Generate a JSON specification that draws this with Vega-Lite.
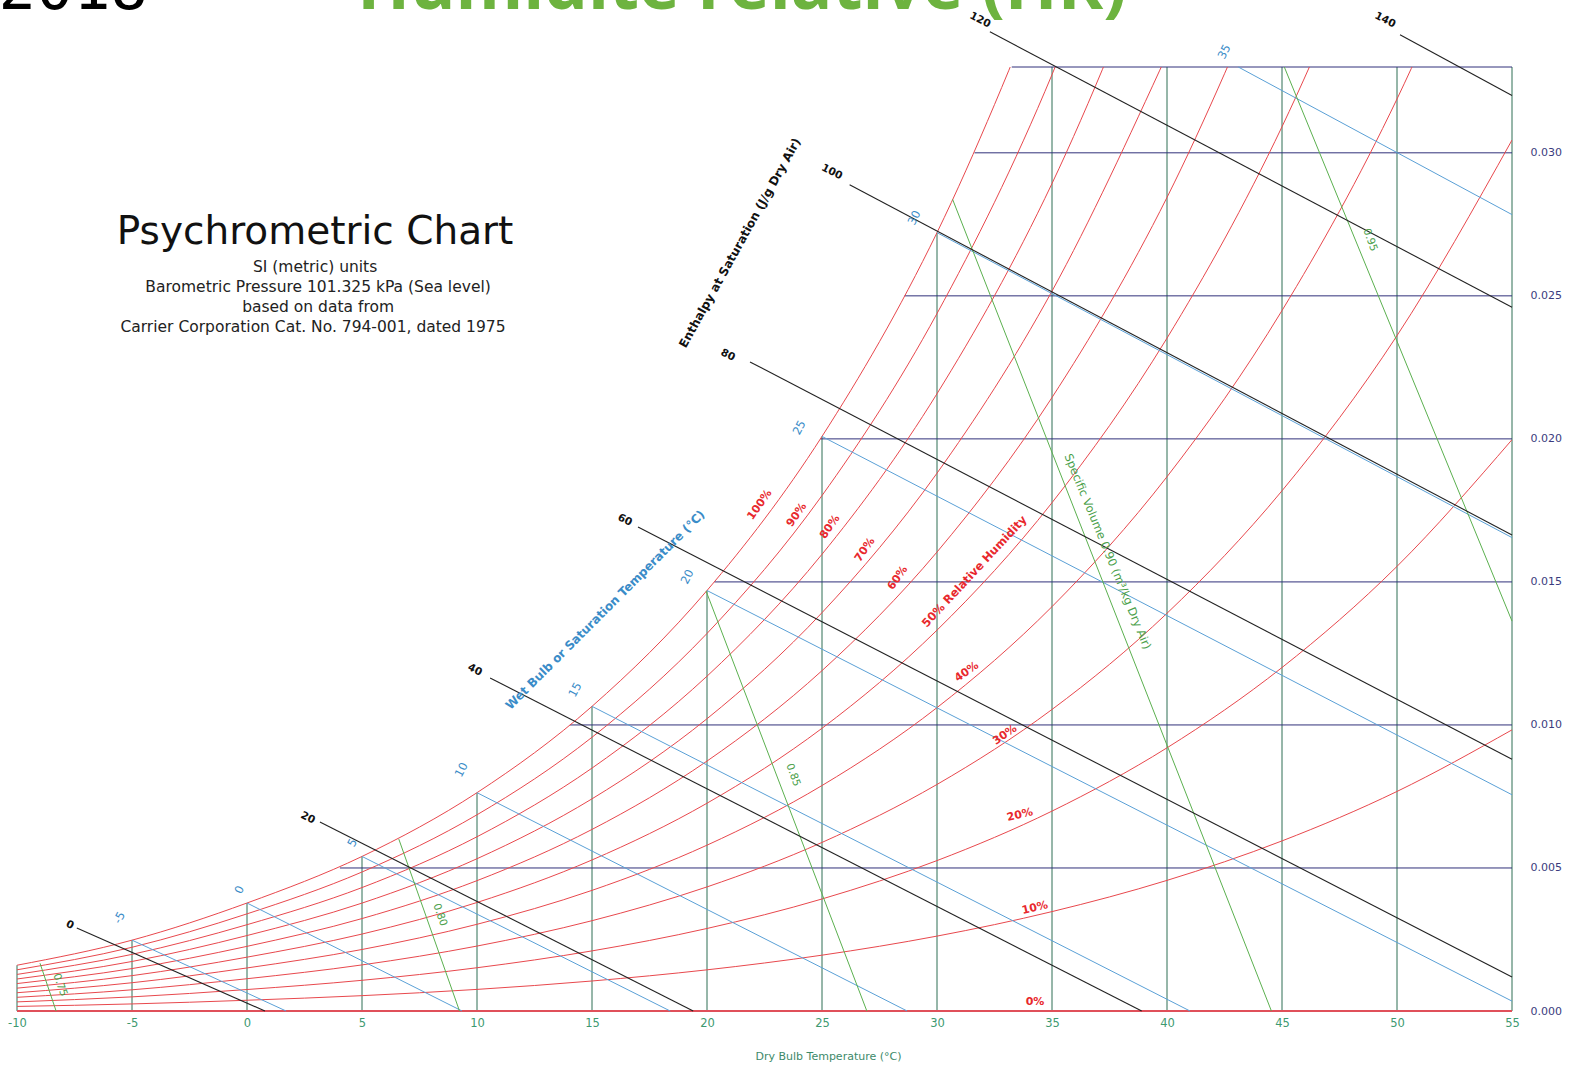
{
  "$schema": "https://vega.github.io/schema/vega-lite/v6.json",
  "width": 1495,
  "height": 944,
  "autosize": {"type": "none"},
  "padding": {"left": 17, "top": 67, "right": 57, "bottom": 54},
  "background": "white",
  "config": {"view": {"stroke": null}, "font": "DejaVu Sans"},
  "layer": [
    {
      "data": {"values": [
        {"T": -10, "wtop": 0.0016}, {"T": -5, "wtop": 0.002476}, {"T": 0, "wtop": 0.003775},
        {"T": 5, "wtop": 0.005403}, {"T": 10, "wtop": 0.007632}, {"T": 15, "wtop": 0.01065},
        {"T": 20, "wtop": 0.014699}, {"T": 25, "wtop": 0.020086}, {"T": 30, "wtop": 0.02721},
        {"T": 35, "wtop": 0.033}, {"T": 40, "wtop": 0.033}, {"T": 45, "wtop": 0.033},
        {"T": 50, "wtop": 0.033}, {"T": 55, "wtop": 0.033}
      ]},
      "mark": {"type": "rule", "color": "#2f6f55", "strokeWidth": 1},
      "encoding": {
        "x": {"field": "T", "type": "quantitative", "scale": {"domain": [-10, 55], "nice": false, "zero": false},
          "axis": {"values": [-10, -5, 0, 5, 10, 15, 20, 25, 30, 35, 40, 45, 50, 55], "title": "Dry Bulb Temperature (°C)",
            "labelExpr": "'' + datum.value",
            "domain": false, "ticks": false, "grid": false, "labelColor": "#3d9970", "labelFontSize": 11.5, "labelPadding": 6,
            "labelFlush": false, "titleColor": "#3d8a6a", "titleFontSize": 11, "titleFontWeight": "normal",
            "titleX": 811, "titleY": 48, "titleBaseline": "alphabetic"}},
        "y": {"field": "wtop", "type": "quantitative", "scale": {"domain": [0, 0.033], "nice": false, "zero": false},
          "axis": {"orient": "right", "values": [0, 0.005, 0.01, 0.015, 0.02, 0.025, 0.03], "format": ".3f", "title": null,
            "domain": false, "ticks": false, "grid": false, "labelColor": "#3b3b7e", "labelFontSize": 11, "labelPadding": 18}},
        "y2": {"datum": 0}
      }
    },
    {
      "data": {"values": [
        {"w": 0.005, "T1": 4.04}, {"w": 0.01, "T1": 14.04}, {"w": 0.015, "T1": 20.32}, {"w": 0.02, "T1": 24.93},
        {"w": 0.025, "T1": 28.59}, {"w": 0.03, "T1": 31.63}, {"w": 0.033, "T1": 33.25}
      ]},
      "mark": {"type": "rule", "color": "#30307a", "strokeWidth": 1},
      "encoding": {
        "x": {"field": "T1", "type": "quantitative", "scale": {"domain": [-10, 55], "nice": false, "zero": false}},
        "x2": {"datum": 55},
        "y": {"field": "w", "type": "quantitative", "scale": {"domain": [0, 0.033], "nice": false, "zero": false}}
      }
    },
    {
      "data": {"values": [
        {"rh": "10", "T": -10, "w": 0.00016}, {"rh": "10", "T": -5, "w": 0.000247}, {"rh": "10", "T": 0, "w": 0.000376}, {"rh": "10", "T": 5, "w": 0.000536}, {"rh": "10", "T": 10, "w": 0.000755}, {"rh": "10", "T": 15, "w": 0.001049}, {"rh": "10", "T": 20, "w": 0.001439}, {"rh": "10", "T": 25, "w": 0.001952}, {"rh": "10", "T": 30, "w": 0.002618}, {"rh": "10", "T": 35, "w": 0.003475}, {"rh": "10", "T": 40, "w": 0.004566}, {"rh": "10", "T": 45, "w": 0.005946}, {"rh": "10", "T": 50, "w": 0.007675}, {"rh": "10", "T": 55, "w": 0.009828},
        {"rh": "20", "T": -10, "w": 0.000319}, {"rh": "20", "T": -5, "w": 0.000494}, {"rh": "20", "T": 0, "w": 0.000751}, {"rh": "20", "T": 5, "w": 0.001073}, {"rh": "20", "T": 10, "w": 0.001512}, {"rh": "20", "T": 15, "w": 0.002101}, {"rh": "20", "T": 20, "w": 0.002885}, {"rh": "20", "T": 25, "w": 0.003916}, {"rh": "20", "T": 30, "w": 0.005258}, {"rh": "20", "T": 35, "w": 0.006988}, {"rh": "20", "T": 40, "w": 0.0092}, {"rh": "20", "T": 45, "w": 0.012007}, {"rh": "20", "T": 50, "w": 0.015543}, {"rh": "20", "T": 55, "w": 0.019972},
        {"rh": "30", "T": -10, "w": 0.000479}, {"rh": "30", "T": -5, "w": 0.000741}, {"rh": "30", "T": 0, "w": 0.001128}, {"rh": "30", "T": 5, "w": 0.001611}, {"rh": "30", "T": 10, "w": 0.00227}, {"rh": "30", "T": 15, "w": 0.003157}, {"rh": "30", "T": 20, "w": 0.004338}, {"rh": "30", "T": 25, "w": 0.005893}, {"rh": "30", "T": 30, "w": 0.00792}, {"rh": "30", "T": 35, "w": 0.010541}, {"rh": "30", "T": 40, "w": 0.013903}, {"rh": "30", "T": 45, "w": 0.018186}, {"rh": "30", "T": 50, "w": 0.023609}, {"rh": "30", "T": 55, "w": 0.030446},
        {"rh": "40", "T": -10, "w": 0.000639}, {"rh": "40", "T": -5, "w": 0.000988}, {"rh": "40", "T": 0, "w": 0.001505}, {"rh": "40", "T": 5, "w": 0.00215}, {"rh": "40", "T": 10, "w": 0.003031}, {"rh": "40", "T": 15, "w": 0.004217}, {"rh": "40", "T": 20, "w": 0.005797}, {"rh": "40", "T": 25, "w": 0.007882}, {"rh": "40", "T": 30, "w": 0.010605}, {"rh": "40", "T": 35, "w": 0.014135}, {"rh": "40", "T": 40, "w": 0.018677}, {"rh": "40", "T": 45, "w": 0.024486}, {"rh": "40", "T": 50, "w": 0.031882}, {"rh": "40", "T": 55, "w": 0.041268},
        {"rh": "50", "T": -10, "w": 0.000799}, {"rh": "50", "T": -5, "w": 0.001236}, {"rh": "50", "T": 0, "w": 0.001882}, {"rh": "50", "T": 5, "w": 0.00269}, {"rh": "50", "T": 10, "w": 0.003793}, {"rh": "50", "T": 15, "w": 0.00528}, {"rh": "50", "T": 20, "w": 0.007264}, {"rh": "50", "T": 25, "w": 0.009883}, {"rh": "50", "T": 30, "w": 0.013313}, {"rh": "50", "T": 35, "w": 0.017769}, {"rh": "50", "T": 40, "w": 0.023522}, {"rh": "50", "T": 45, "w": 0.030912}, {"rh": "50", "T": 50, "w": 0.04037},
        {"rh": "60", "T": -10, "w": 0.000959}, {"rh": "60", "T": -5, "w": 0.001483}, {"rh": "60", "T": 0, "w": 0.00226}, {"rh": "60", "T": 5, "w": 0.003231}, {"rh": "60", "T": 10, "w": 0.004557}, {"rh": "60", "T": 15, "w": 0.006347}, {"rh": "60", "T": 20, "w": 0.008737}, {"rh": "60", "T": 25, "w": 0.011898}, {"rh": "60", "T": 30, "w": 0.016045}, {"rh": "60", "T": 35, "w": 0.021446}, {"rh": "60", "T": 40, "w": 0.028441}, {"rh": "60", "T": 45, "w": 0.037467},
        {"rh": "70", "T": -10, "w": 0.001119}, {"rh": "70", "T": -5, "w": 0.001731}, {"rh": "70", "T": 0, "w": 0.002638}, {"rh": "70", "T": 5, "w": 0.003772}, {"rh": "70", "T": 10, "w": 0.005323}, {"rh": "70", "T": 15, "w": 0.007417}, {"rh": "70", "T": 20, "w": 0.010217}, {"rh": "70", "T": 25, "w": 0.013925}, {"rh": "70", "T": 30, "w": 0.0188}, {"rh": "70", "T": 35, "w": 0.025165}, {"rh": "70", "T": 40, "w": 0.033437},
        {"rh": "80", "T": -10, "w": 0.001279}, {"rh": "80", "T": -5, "w": 0.00198}, {"rh": "80", "T": 0, "w": 0.003017}, {"rh": "80", "T": 5, "w": 0.004315}, {"rh": "80", "T": 10, "w": 0.006091}, {"rh": "80", "T": 15, "w": 0.008491}, {"rh": "80", "T": 20, "w": 0.011704}, {"rh": "80", "T": 25, "w": 0.015966}, {"rh": "80", "T": 30, "w": 0.021579}, {"rh": "80", "T": 35, "w": 0.028927}, {"rh": "80", "T": 40, "w": 0.03851},
        {"rh": "90", "T": -10, "w": 0.00144}, {"rh": "90", "T": -5, "w": 0.002228}, {"rh": "90", "T": 0, "w": 0.003396}, {"rh": "90", "T": 5, "w": 0.004859}, {"rh": "90", "T": 10, "w": 0.00686}, {"rh": "90", "T": 15, "w": 0.009569}, {"rh": "90", "T": 20, "w": 0.013198}, {"rh": "90", "T": 25, "w": 0.018019}, {"rh": "90", "T": 30, "w": 0.024382}, {"rh": "90", "T": 35, "w": 0.032733}, {"rh": "90", "T": 40, "w": 0.043661},
        {"rh": "100", "T": -10, "w": 0.0016}, {"rh": "100", "T": -5, "w": 0.002476}, {"rh": "100", "T": 0, "w": 0.003775}, {"rh": "100", "T": 5, "w": 0.005403}, {"rh": "100", "T": 10, "w": 0.007632}, {"rh": "100", "T": 15, "w": 0.01065}, {"rh": "100", "T": 20, "w": 0.014699}, {"rh": "100", "T": 25, "w": 0.020086}, {"rh": "100", "T": 30, "w": 0.02721}, {"rh": "100", "T": 35, "w": 0.036584}
      ]},
      "mark": {"type": "line", "color": "#e8484d", "strokeWidth": 1, "interpolate": "monotone", "clip": true},
      "encoding": {
        "x": {"field": "T", "type": "quantitative", "scale": {"domain": [-10, 55], "nice": false, "zero": false}},
        "y": {"field": "w", "type": "quantitative", "scale": {"domain": [0, 0.033], "nice": false, "zero": false}},
        "detail": {"field": "rh", "type": "nominal"}
      }
    },
    {
      "data": {"values": [{"T1": -10, "T2": 55, "w": 0}]},
      "mark": {"type": "rule", "color": "#e0505a", "strokeWidth": 2.2},
      "encoding": {
        "x": {"field": "T1", "type": "quantitative", "scale": {"domain": [-10, 55], "nice": false, "zero": false}},
        "x2": {"field": "T2"},
        "y": {"field": "w", "type": "quantitative", "scale": {"domain": [0, 0.033], "nice": false, "zero": false}}
      }
    },
    {
      "data": {"values": [
        {"twb": -5, "T1": -5, "w1": 0.002476, "T2": 1.7, "w2": 0},
        {"twb": 0, "T1": 0, "w1": 0.003775, "T2": 9.35, "w2": 0},
        {"twb": 5, "T1": 5, "w1": 0.005403, "T2": 18.4, "w2": 0},
        {"twb": 10, "T1": 10, "w1": 0.007632, "T2": 28.7, "w2": 0},
        {"twb": 15, "T1": 15, "w1": 0.01065, "T2": 41.0, "w2": 0},
        {"twb": 20, "T1": 20, "w1": 0.014699, "T2": 55, "w2": 0.000345},
        {"twb": 25, "T1": 25, "w1": 0.020086, "T2": 55, "w2": 0.007559},
        {"twb": 30, "T1": 30, "w1": 0.02721, "T2": 55, "w2": 0.016549},
        {"twb": 35, "T1": 43.1, "w1": 0.033, "T2": 55, "w2": 0.02784}
      ]},
      "mark": {"type": "rule", "color": "#5aa0d6", "strokeWidth": 1},
      "encoding": {
        "x": {"field": "T1", "type": "quantitative", "scale": {"domain": [-10, 55], "nice": false, "zero": false}},
        "x2": {"field": "T2"},
        "y": {"field": "w1", "type": "quantitative", "scale": {"domain": [0, 0.033], "nice": false, "zero": false}},
        "y2": {"field": "w2"}
      }
    },
    {
      "data": {"values": [
        {"v": 0.75, "T1": -9.0, "w1": 0.00167, "T2": -8.3, "w2": 0},
        {"v": 0.80, "T1": 6.6, "w1": 0.00601, "T2": 9.24, "w2": 0},
        {"v": 0.85, "T1": 19.96, "w1": 0.01468, "T2": 26.95, "w2": 0},
        {"v": 0.90, "T1": 30.68, "w1": 0.02837, "T2": 44.54, "w2": 0},
        {"v": 0.95, "T1": 45.1, "w1": 0.033, "T2": 55, "w2": 0.01363}
      ]},
      "mark": {"type": "rule", "color": "#5bb04f", "strokeWidth": 1},
      "encoding": {
        "x": {"field": "T1", "type": "quantitative", "scale": {"domain": [-10, 55], "nice": false, "zero": false}},
        "x2": {"field": "T2"},
        "y": {"field": "w1", "type": "quantitative", "scale": {"domain": [0, 0.033], "nice": false, "zero": false}},
        "y2": {"field": "w2"}
      }
    },
    {
      "data": {"values": [
        {"h": 0, "T1": -7.4, "w1": 0.0029, "T2": 0.78, "w2": 0},
        {"h": 20, "T1": 3.17, "w1": 0.00661, "T2": 19.4, "w2": 0},
        {"h": 40, "T1": 10.57, "w1": 0.01164, "T2": 38.9, "w2": 0},
        {"h": 60, "T1": 17.0, "w1": 0.01692, "T2": 55, "w2": 0.00119},
        {"h": 80, "T1": 21.87, "w1": 0.02269, "T2": 55, "w2": 0.0088},
        {"h": 100, "T1": 26.2, "w1": 0.02888, "T2": 55, "w2": 0.01664},
        {"h": 120, "T1": 32.3, "w1": 0.03423, "T2": 55, "w2": 0.0246},
        {"h": 140, "T1": 50.13, "w1": 0.03413, "T2": 55, "w2": 0.032}
      ]},
      "mark": {"type": "rule", "color": "#222222", "strokeWidth": 1.1},
      "encoding": {
        "x": {"field": "T1", "type": "quantitative", "scale": {"domain": [-10, 55], "nice": false, "zero": false}},
        "x2": {"field": "T2"},
        "y": {"field": "w1", "type": "quantitative", "scale": {"domain": [0, 0.033], "nice": false, "zero": false}},
        "y2": {"field": "w2"}
      }
    },
    {
      "data": {"values": [
        {"T": -7.7, "w": 0.00301, "label": "0"}, {"T": 2.65, "w": 0.00675, "label": "20"},
        {"T": 9.91, "w": 0.01192, "label": "40"}, {"T": 16.43, "w": 0.01716, "label": "60"},
        {"T": 20.91, "w": 0.02293, "label": "80"}, {"T": 25.43, "w": 0.02933, "label": "100"},
        {"T": 31.87, "w": 0.03464, "label": "120"}, {"T": 49.48, "w": 0.03464, "label": "140"}
      ]},
      "mark": {"type": "text", "color": "#111111", "fontSize": 10.5, "fontWeight": "bold", "angle": 27, "align": "center", "baseline": "middle"},
      "encoding": {
        "x": {"field": "T", "type": "quantitative", "scale": {"domain": [-10, 55], "nice": false, "zero": false}},
        "y": {"field": "w", "type": "quantitative", "scale": {"domain": [0, 0.033], "nice": false, "zero": false}},
        "text": {"field": "label"}
      }
    },
    {
      "data": {"values": [
        {"T": -5.52, "w": 0.00325, "label": "-5"}, {"T": -0.3, "w": 0.00423, "label": "0"},
        {"T": 4.61, "w": 0.00587, "label": "5"}, {"T": 9.35, "w": 0.00842, "label": "10"},
        {"T": 14.3, "w": 0.01122, "label": "15"}, {"T": 19.17, "w": 0.01517, "label": "20"},
        {"T": 24.04, "w": 0.02038, "label": "25"}, {"T": 29.04, "w": 0.02772, "label": "30"},
        {"T": 42.52, "w": 0.03352, "label": "35"}
      ]},
      "mark": {"type": "text", "color": "#3a8cc8", "fontSize": 11.5, "angle": -62, "align": "center", "baseline": "middle"},
      "encoding": {
        "x": {"field": "T", "type": "quantitative", "scale": {"domain": [-10, 55], "nice": false, "zero": false}},
        "y": {"field": "w", "type": "quantitative", "scale": {"domain": [0, 0.033], "nice": false, "zero": false}},
        "text": {"field": "label"}
      }
    },
    {
      "data": {"values": [
        {"T": -8.13, "w": 0.00091, "label": "0.75"}, {"T": 8.39, "w": 0.00336, "label": "0.80"},
        {"T": 23.74, "w": 0.00825, "label": "0.85"}, {"T": 48.83, "w": 0.02695, "label": "0.95"}
      ]},
      "mark": {"type": "text", "color": "#4aa04a", "fontSize": 10.5, "angle": 70, "align": "center", "baseline": "middle"},
      "encoding": {
        "x": {"field": "T", "type": "quantitative", "scale": {"domain": [-10, 55], "nice": false, "zero": false}},
        "y": {"field": "w", "type": "quantitative", "scale": {"domain": [0, 0.033], "nice": false, "zero": false}},
        "text": {"field": "label"}
      }
    },
    {
      "data": {"values": [{"T": 37.39, "w": 0.01605, "label": "Specific Volume 0.90 (m³/kg Dry Air)"}]},
      "mark": {"type": "text", "color": "#4aa04a", "fontSize": 11.5, "angle": 67.6, "align": "center", "baseline": "middle"},
      "encoding": {
        "x": {"field": "T", "type": "quantitative", "scale": {"domain": [-10, 55], "nice": false, "zero": false}},
        "y": {"field": "w", "type": "quantitative", "scale": {"domain": [0, 0.033], "nice": false, "zero": false}},
        "text": {"field": "label"}
      }
    },
    {
      "data": {"values": [{"T": 15.57, "w": 0.01402, "label": "Wet Bulb or Saturation Temperature (°C)"}]},
      "mark": {"type": "text", "color": "#3a8cc8", "fontSize": 12, "fontWeight": "bold", "angle": -45, "align": "center", "baseline": "middle"},
      "encoding": {
        "x": {"field": "T", "type": "quantitative", "scale": {"domain": [-10, 55], "nice": false, "zero": false}},
        "y": {"field": "w", "type": "quantitative", "scale": {"domain": [0, 0.033], "nice": false, "zero": false}},
        "text": {"field": "label"}
      }
    },
    {
      "data": {"values": [{"T": 21.43, "w": 0.02685, "label": "Enthalpy at Saturation (J/g Dry Air)"}]},
      "mark": {"type": "text", "color": "#111111", "fontSize": 12, "fontWeight": "bold", "angle": -61, "align": "center", "baseline": "middle"},
      "encoding": {
        "x": {"field": "T", "type": "quantitative", "scale": {"domain": [-10, 55], "nice": false, "zero": false}},
        "y": {"field": "w", "type": "quantitative", "scale": {"domain": [0, 0.033], "nice": false, "zero": false}},
        "text": {"field": "label"}
      }
    },
    {
      "data": {"values": [
        {"T": 22.3, "w": 0.01769, "label": "100%"}, {"T": 23.91, "w": 0.01734, "label": "90%"},
        {"T": 25.35, "w": 0.01692, "label": "80%"}, {"T": 26.87, "w": 0.01612, "label": "70%"},
        {"T": 28.3, "w": 0.01514, "label": "60%"}
      ]},
      "mark": {"type": "text", "color": "#e8282d", "fontSize": 11, "fontWeight": "bold", "angle": -55, "align": "center", "baseline": "middle"},
      "encoding": {
        "x": {"field": "T", "type": "quantitative", "scale": {"domain": [-10, 55], "nice": false, "zero": false}},
        "y": {"field": "w", "type": "quantitative", "scale": {"domain": [0, 0.033], "nice": false, "zero": false}},
        "text": {"field": "label"}
      }
    },
    {
      "data": {"values": [{"T": 31.65, "w": 0.01535, "label": "50% Relative Humidity"}]},
      "mark": {"type": "text", "color": "#e8282d", "fontSize": 11.5, "fontWeight": "bold", "angle": -47, "align": "center", "baseline": "middle"},
      "encoding": {
        "x": {"field": "T", "type": "quantitative", "scale": {"domain": [-10, 55], "nice": false, "zero": false}},
        "y": {"field": "w", "type": "quantitative", "scale": {"domain": [0, 0.033], "nice": false, "zero": false}},
        "text": {"field": "label"}
      }
    },
    {
      "data": {"values": [{"T": 31.3, "w": 0.01185, "label": "40%"}, {"T": 32.96, "w": 0.00965, "label": "30%"}]},
      "mark": {"type": "text", "color": "#e8282d", "fontSize": 11, "fontWeight": "bold", "angle": -35, "align": "center", "baseline": "middle"},
      "encoding": {
        "x": {"field": "T", "type": "quantitative", "scale": {"domain": [-10, 55], "nice": false, "zero": false}},
        "y": {"field": "w", "type": "quantitative", "scale": {"domain": [0, 0.033], "nice": false, "zero": false}},
        "text": {"field": "label"}
      }
    },
    {
      "data": {"values": [{"T": 33.61, "w": 0.00685, "label": "20%"}, {"T": 34.26, "w": 0.0036, "label": "10%"}]},
      "mark": {"type": "text", "color": "#e8282d", "fontSize": 11, "fontWeight": "bold", "angle": -13, "align": "center", "baseline": "middle"},
      "encoding": {
        "x": {"field": "T", "type": "quantitative", "scale": {"domain": [-10, 55], "nice": false, "zero": false}},
        "y": {"field": "w", "type": "quantitative", "scale": {"domain": [0, 0.033], "nice": false, "zero": false}},
        "text": {"field": "label"}
      }
    },
    {
      "data": {"values": [{"T": 34.26, "w": 0.00031, "label": "0%"}]},
      "mark": {"type": "text", "color": "#e8282d", "fontSize": 11, "fontWeight": "bold", "align": "center", "baseline": "middle"},
      "encoding": {
        "x": {"field": "T", "type": "quantitative", "scale": {"domain": [-10, 55], "nice": false, "zero": false}},
        "y": {"field": "w", "type": "quantitative", "scale": {"domain": [0, 0.033], "nice": false, "zero": false}},
        "text": {"field": "label"}
      }
    },
    {
      "data": {"values": [{"T": 2.96, "w": 0.02723, "label": "Psychrometric Chart"}]},
      "mark": {"type": "text", "color": "#111111", "fontSize": 39, "align": "center", "baseline": "middle"},
      "encoding": {
        "x": {"field": "T", "type": "quantitative", "scale": {"domain": [-10, 55], "nice": false, "zero": false}},
        "y": {"field": "w", "type": "quantitative", "scale": {"domain": [0, 0.033], "nice": false, "zero": false}},
        "text": {"field": "label"}
      }
    },
    {
      "data": {"values": [
        {"T": 2.96, "w": 0.02601, "label": "SI (metric) units"},
        {"T": 3.09, "w": 0.02531, "label": "Barometric Pressure 101.325 kPa (Sea level)"},
        {"T": 3.09, "w": 0.02461, "label": "based on data from"},
        {"T": 2.87, "w": 0.02391, "label": "Carrier Corporation Cat. No. 794-001, dated 1975"}
      ]},
      "mark": {"type": "text", "color": "#222222", "fontSize": 15.5, "align": "center", "baseline": "middle"},
      "encoding": {
        "x": {"field": "T", "type": "quantitative", "scale": {"domain": [-10, 55], "nice": false, "zero": false}},
        "y": {"field": "w", "type": "quantitative", "scale": {"domain": [0, 0.033], "nice": false, "zero": false}},
        "text": {"field": "label"}
      }
    },
    {
      "data": {"values": [{"T": -10.8, "w": 0.03503, "label": "2018"}]},
      "mark": {"type": "text", "color": "#000000", "font": "DejaVu Sans Mono", "fontSize": 62, "align": "left", "baseline": "alphabetic"},
      "encoding": {
        "x": {"field": "T", "type": "quantitative", "scale": {"domain": [-10, 55], "nice": false, "zero": false}},
        "y": {"field": "w", "type": "quantitative", "scale": {"domain": [0, 0.033], "nice": false, "zero": false}},
        "text": {"field": "label"}
      }
    },
    {
      "data": {"values": [{"T": 21.52, "w": 0.03503, "label": "Humidité relative (HR)"}]},
      "mark": {"type": "text", "color": "#6db33f", "font": "Open Sans", "fontWeight": "bold", "fontSize": 69, "align": "center", "baseline": "alphabetic"},
      "encoding": {
        "x": {"field": "T", "type": "quantitative", "scale": {"domain": [-10, 55], "nice": false, "zero": false}},
        "y": {"field": "w", "type": "quantitative", "scale": {"domain": [0, 0.033], "nice": false, "zero": false}},
        "text": {"field": "label"}
      }
    }
  ]
}
